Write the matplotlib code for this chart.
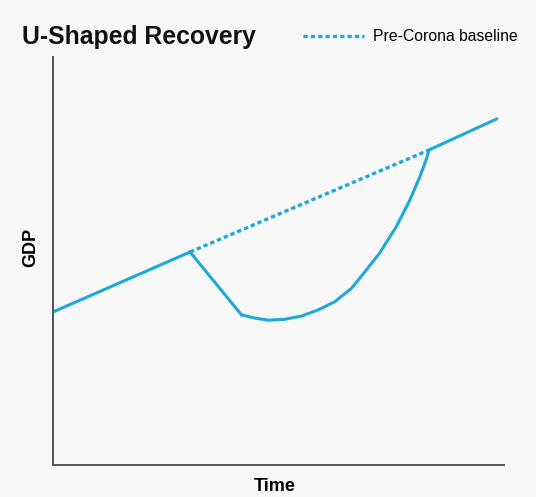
import matplotlib.pyplot as plt

# GDP path over time (arbitrary units, 0-100 on both axes)
pre_time = [0, 30.4]
pre_gdp = [37.5, 52.2]

drop_time = [30.4, 41.8]
drop_gdp = [52.2, 36.8]

recovery_time = [41.8, 44.8, 47.7, 51.4, 55.1, 58.8, 62.5, 66.2, 68.8,
                 72.5, 76.2, 79.2, 81.4, 82.9, 83.4]
recovery_gdp = [36.8, 36.0, 35.5, 35.7, 36.5, 38.0, 40.0, 43.3, 46.8,
                52.0, 58.5, 65.0, 70.7, 75.2, 77.2]

post_time = [83.4, 98.4]
post_gdp = [77.2, 84.8]

baseline_time = [30.4, 83.4]
baseline_gdp = [52.2, 77.2]

color = '#1fa9d8'
bg = '#f8f8f8'

plt.rcParams['font.family'] = ['Liberation Sans', 'DejaVu Sans']

fig = plt.figure(figsize=(5.36, 4.97), dpi=100, facecolor=bg)
ax = fig.add_axes([0.0989, 0.0644, 0.841, 0.821], facecolor=bg)

ax.plot(pre_time, pre_gdp, color=color, lw=2.2, solid_capstyle='round')
ax.plot(drop_time, drop_gdp, color=color, lw=2.2, solid_joinstyle='round')
ax.plot(recovery_time, recovery_gdp, color=color, lw=2.2,
        solid_joinstyle='round', solid_capstyle='round')
ax.plot(post_time, post_gdp, color=color, lw=2.2)
baseline, = ax.plot(baseline_time, baseline_gdp, color=color, lw=2.4,
                    linestyle=(0, (1.3, 0.9)), label='Pre-Corona baseline')

ax.set_xlim(0, 100)
ax.set_ylim(0, 100)
ax.set_xticks([])
ax.set_yticks([])
for side in ['top', 'right']:
    ax.spines[side].set_visible(False)
for side in ['left', 'bottom']:
    ax.spines[side].set_color('#555555')
    ax.spines[side].set_linewidth(1.4)

ax.set_xlabel('Time', fontsize=13, fontweight='bold')
ax.xaxis.set_label_coords(0.491, -0.032)
ax.xaxis.label.set_va('top')
ax.set_ylabel('GDP', fontsize=13, fontweight='bold')
ax.yaxis.set_label_coords(-0.031, 0.534)

fig.text(0.041, 0.9115, 'U-Shaped Recovery', fontsize=17.8, fontweight='bold',
         color='#111111', va='baseline')

fig.legend(handles=[baseline], loc='center right', bbox_to_anchor=(0.992, 0.926),
           frameon=False, fontsize=11.3, handlelength=3.9, handletextpad=0.55)

fig.savefig('out.png', dpi=100, facecolor=bg)
